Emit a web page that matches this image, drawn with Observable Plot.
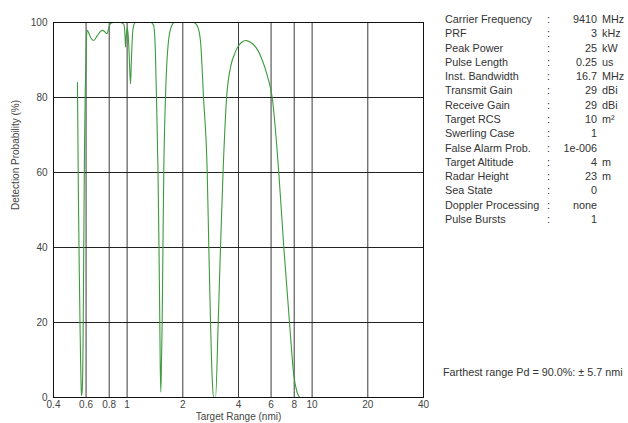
<!DOCTYPE html>
<html>
<head>
<meta charset="utf-8">
<script src="https://cdn.jsdelivr.net/npm/d3@7"></script>
<script src="https://cdn.jsdelivr.net/npm/@observablehq/plot@0.6"></script>
<style>
  html, body { margin: 0; padding: 0; background: #fff; }
  #wrap { position: relative; width: 628px; height: 423px; overflow: hidden; font-family: "Liberation Sans", Arial, sans-serif; }
  #params { position: absolute; left: 0; top: 0; font-size: 10.8px; color: #333; }
  .row { position: absolute; height: 14px; line-height: 14px; white-space: nowrap; }
  .lab { position: absolute; left: 445px; }
  .col { position: absolute; left: 547px; }
  .val { position: absolute; }
  .unit { position: absolute; left: 602px; }
  #note { position: absolute; left: 443px; top: 365px; font-size: 10.8px; color: #333; white-space: nowrap; line-height: 14px; }
</style>
</head>
<body>
<div id="wrap"></div>
<script>
// Detection probability vs target range
const rangeNmi = [
  0.539, 0.545, 0.552, 0.557, 0.560, 0.564, 0.567, 0.572, 0.578, 0.583, 0.588, 0.594, 0.598, 0.603,
  0.608, 0.620, 0.635, 0.659, 0.690, 0.733, 0.755, 0.780, 0.795, 0.813, 0.844, 0.920, 0.960, 0.975,
  0.980, 0.988, 1.000, 1.012, 1.025, 1.043, 1.055, 1.070, 1.083, 1.110, 1.340, 1.390, 1.420, 1.441,
  1.469, 1.487, 1.502, 1.509, 1.521, 1.534, 1.547, 1.562, 1.578, 1.612, 1.673, 1.737, 1.803, 2.285,
  2.400, 2.493, 2.588, 2.710, 2.765, 2.824, 2.884, 2.931, 3.005, 3.107, 3.197, 3.300, 3.450, 3.620,
  3.800, 4.000, 4.180, 4.365, 4.800, 5.100, 5.373, 5.750, 6.085, 6.605, 7.030, 7.548, 7.960, 8.230,
  8.650, 20, 40
];
const detectionPct = [
  84, 55, 32, 18, 11, 3, 0.5, 2, 15, 40, 65, 82, 88, 96,
  97.9, 97.3, 96, 95.2, 96.5, 97.9, 97.6, 97.0, 98.5, 99.7, 100, 100, 99.5, 96,
  93.4, 96, 98.5, 97, 92, 83.6, 90, 97, 99, 100, 100, 99.3, 93, 80,
  60, 40, 20, 10, 1.5, 10, 20, 40, 60, 80, 95, 99, 100, 100,
  99, 95, 80, 60, 40, 20, 5, 0, 0, 20, 40, 60, 80, 88,
  91.5, 93.8, 94.8, 95.2, 94.2, 92.5, 90, 85.5, 80, 60, 40, 20, 6, 2,
  0, 0, 0
];
const xTicks = [0.4, 0.6, 0.8, 1, 2, 4, 6, 8, 10, 20, 40];
const xGrid = [0.6, 0.8, 1, 2, 4, 6, 8, 10, 20];
const yTicks = [0, 20, 40, 60, 80, 100];
const yGrid = [20, 40, 60, 80];
const xLabel = "Target Range (nmi)";
const yLabel = "Detection Probability (%)";

const paramLabels = ["Carrier Frequency", "PRF", "Peak Power", "Pulse Length", "Inst. Bandwidth",
  "Transmit Gain", "Receive Gain", "Target RCS", "Swerling Case", "False Alarm Prob.",
  "Target Altitude", "Radar Height", "Sea State", "Doppler Processing", "Pulse Bursts"];
const paramValues = ["9410", "3", "25", "0.25", "16.7", "29", "29", "10", "1", "1e-006", "4", "23", "0", "none", "1"];
const paramUnits = ["MHz", "kHz", "kW", "us", "MHz", "dBi", "dBi", "m²", "", "", "m", "m", "", "", ""];
const noteText = "Farthest range Pd = 90.0%: ± 5.7 nmi";

const data = rangeNmi.map((r, i) => ({r, p: detectionPct[i]}));

const chart = Plot.plot({
  width: 628,
  height: 423,
  marginTop: 22,
  marginBottom: 26,
  marginLeft: 53,
  marginRight: 205,
  style: {fontFamily: '"Liberation Sans", Arial, sans-serif', fontSize: "10px", color: "#444", background: "#fff"},
  x: {type: "log", domain: [0.4, 40], axis: null},
  y: {domain: [0, 100], axis: null},
  marks: [
    Plot.ruleX(xGrid, {stroke: "#3a3a3a", strokeWidth: 1}),
    Plot.ruleY(yGrid, {stroke: "#222", strokeWidth: 1}),
    Plot.line(data, {x: "r", y: "p", stroke: "#3d9a3d", strokeWidth: 1.1, curve: "monotone-x"}),
    Plot.frame({stroke: "#111", strokeWidth: 1}),
    Plot.text(xTicks, {x: d => d, text: d => String(d), frameAnchor: "bottom", dy: 3, lineAnchor: "top", fill: "#444", fontSize: 10}),
    Plot.text(yTicks, {y: d => d, text: d => String(d), frameAnchor: "left", dx: -6, textAnchor: "end", fill: "#444", fontSize: 10}),
    Plot.text([xLabel], {frameAnchor: "bottom", dy: 22, lineAnchor: "bottom", fill: "#444", fontSize: 10}),
    Plot.text([yLabel], {frameAnchor: "left", rotate: -90, dx: -38, fill: "#444", fontSize: 10})
  ]
});

const wrap = document.getElementById("wrap");
wrap.appendChild(chart);

const params = document.createElement("div");
params.id = "params";
paramLabels.forEach((lab, i) => {
  const row = document.createElement("div");
  row.className = "row";
  row.style.top = (12 + i * 14.29) + "px";
  row.style.left = "0px";
  row.innerHTML = `<span class="lab">${lab}</span><span class="col">:</span>` +
    `<span class="val">${paramValues[i]}</span><span class="unit">${paramUnits[i]}</span>`;
  params.appendChild(row);
});
wrap.appendChild(params);
// right-align values at x=597
params.querySelectorAll(".val").forEach(v => {
  const w = v.getBoundingClientRect().width;
  v.style.left = (597 - w) + "px";
});

const note = document.createElement("div");
note.id = "note";
note.textContent = noteText;
wrap.appendChild(note);
</script>
</body>
</html>
